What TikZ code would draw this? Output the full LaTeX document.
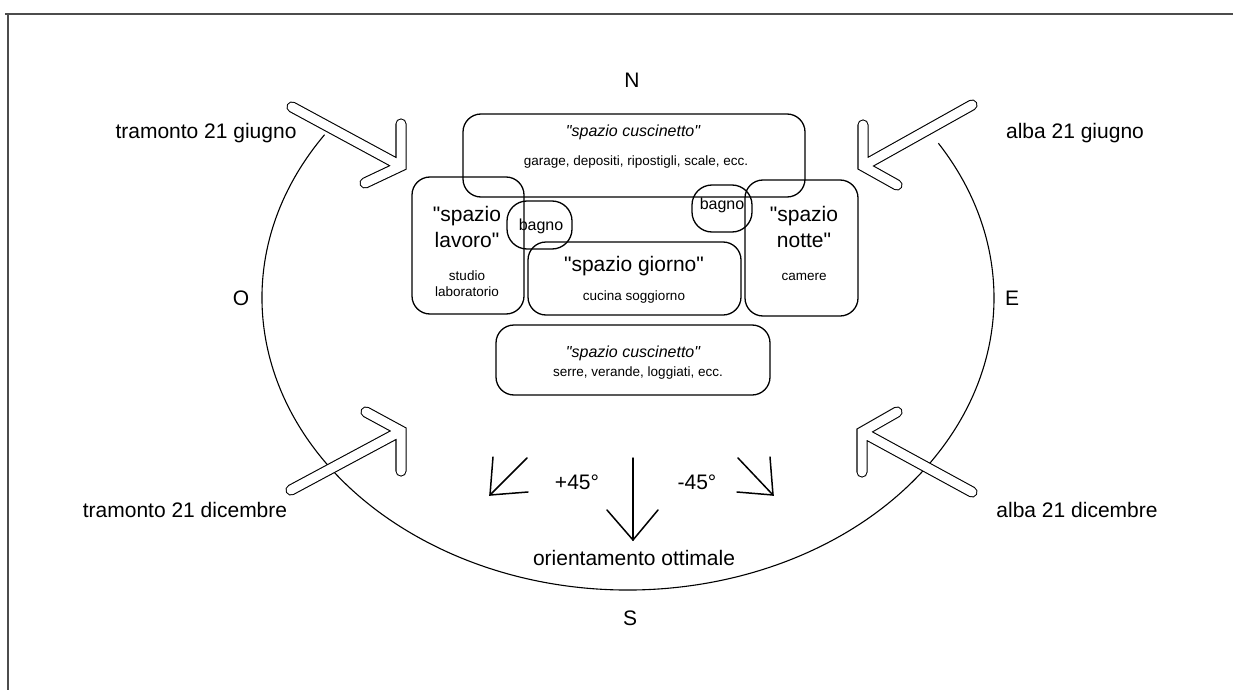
\documentclass[tikz,border=0pt]{standalone}
\usepackage{fontspec}
\setmainfont{Liberation Sans}[Ligatures=TeXOff]
\begin{document}
\begin{tikzpicture}[x=1pt,y=-1pt,
        room/.style={draw, line width=1.3pt, rounded corners=18pt, inner sep=0pt},
        wc/.style={room, rounded corners=20pt},
        big/.style={font=\fontsize{21}{26}\selectfont, align=center, inner sep=0pt},
        mid/.style={font=\fontsize{16}{19}\selectfont, align=center, inner sep=0pt},
        small/.style={font=\fontsize{13.5}{16}\selectfont, align=center, inner sep=0pt},
        sunray/.style={double, double distance=9pt, line width=1.1pt, line cap=round, line join=miter},
        orbit/.style={line width=1.1pt},
        dirarrow/.style={line width=1.5pt, line cap=round}]
        \useasboundingbox (0,0) rectangle (1233,690);
        % cornice
        \draw[line width=1.8pt, black!70] (5,14) -- (1233,14);
        \draw[line width=1.8pt, black!70] (8,14) -- (8,690);
        % punti cardinali
        \node[big] (north) at (632,80) {N};
        \node[big] (south) at (630,618) {S};
        \node[big] (west) at (241,298) {O};
        \node[big] (east) at (1012,298) {E};
        % percorso del sole
        \draw[orbit] (628,298) ++(214:366 and 292) arc[start angle=214, end angle=-32, x radius=366, y radius=292];
        % raggi solari
        \draw[sunray] (401,124) -- (401,166) -- (365,183) (292,107) -- (401,166);
        \draw[sunray] (863,125) -- (863,166) -- (897,185) (972,105) -- (863,166);
        \draw[sunray] (401,471) -- (401,431) -- (366,412) (291,490) -- (401,431);
        \draw[sunray] (862,472) -- (862,432) -- (897,412) (972,492) -- (862,432);
        \node[big] (tjune) at (206,133) {tramonto 21 giugno};
        \node[big] (ajune) at (1075,133) {alba 21 giugno};
        \node[big] (tdec) at (185,510) {tramonto 21 dicembre};
        \node[big] (adec) at (1077,510) {alba 21 dicembre};
        % spazi
        \node[room, minimum width=342pt, minimum height=83pt] (cushN) at (634,155.5) {};
        \node[room, minimum width=112pt, minimum height=137pt] (work) at (468,245.5) {};
        \node[wc, minimum width=65pt, minimum height=48pt] (bathW) at (539.5,225) {};
        \node[room, minimum width=213pt, minimum height=73pt] (day) at (634.5,278.5) {};
        \node[wc, minimum width=60pt, minimum height=47pt] (bathE) at (722,208.5) {};
        \node[room, minimum width=113pt, minimum height=136pt] (night) at (801.5,248) {};
        \node[room, minimum width=274pt, minimum height=70pt] (cushS) at (633,360) {};
        % testi degli spazi
        \node[mid] (cushNt) at (633,132) {\itshape "spazio cuscinetto"};
        \node[small] (cushNl) at (636,162) {garage, depositi, ripostigli, scale, ecc.};
        \node[big] (workt) at (467,227) {"spazio\\lavoro"};
        \node[small] (workl) at (467,284) {studio\\laboratorio};
        \node[mid] (bathWt) at (541,226) {bagno};
        \node[big] (dayt) at (634,266) {"spazio giorno"};
        \node[small] (dayl) at (634,297) {cucina soggiorno};
        \node[mid] (bathEt) at (722,205) {bagno};
        \node[big] (nightt) at (804,227) {"spazio\\notte"};
        \node[small] (nightl) at (804,277) {camere};
        \node[mid] (cushSt) at (633,353) {\itshape "spazio cuscinetto"};
        \node[small] (cushSl) at (638,373) {serre, verande, loggiati, ecc.};
        % orientamento
        \draw[dirarrow] (633,458) -- (633,540);
        \draw[dirarrow] (607,510) -- (633,540) -- (658,510);
        \draw[dirarrow] (527,458) -- (490,495);
        \draw[dirarrow] (493,457) -- (490,495) -- (528,492);
        \draw[dirarrow] (738,458) -- (773,495);
        \draw[dirarrow] (770,457) -- (773,495) -- (737,492);
        \node[big] (plus) at (577,482) {+45°};
        \node[big] (minus) at (697,482) {-45°};
        \node[big] (best) at (634,558) {orientamento ottimale};
\end{tikzpicture}
\end{document}
